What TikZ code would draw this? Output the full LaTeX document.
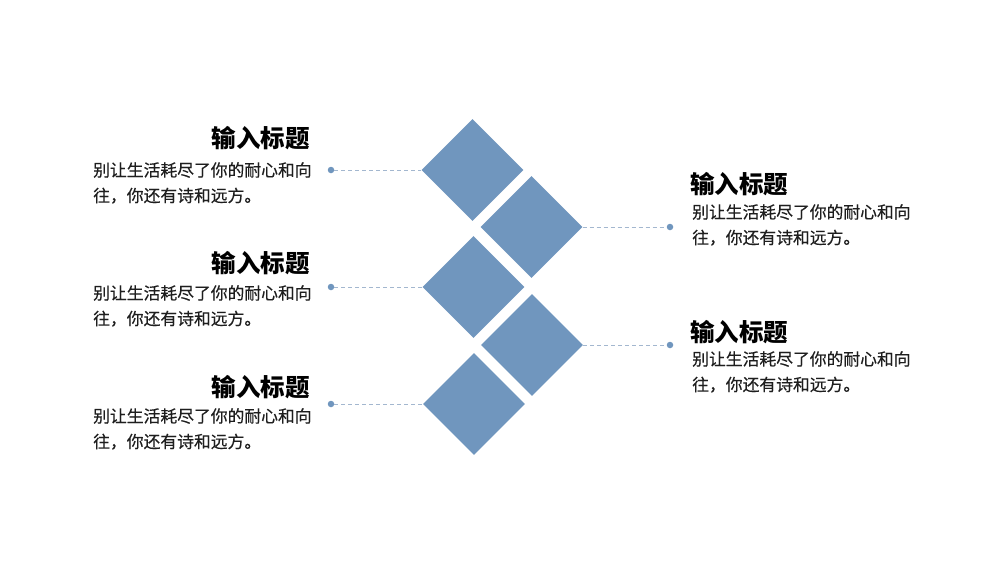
\documentclass[tikz,border=0pt]{standalone}
\usepackage{fontspec}
\newfontfamily\cjk{Noto Sans CJK SC}
\newfontfamily\cjkbody[FakeBold=0.3]{Noto Sans CJK SC}
\usetikzlibrary{shapes.geometric}
\definecolor{dmd}{HTML}{7096BE}
\definecolor{dashc}{HTML}{A3B7CF}
\definecolor{bodyc}{HTML}{1E1E1E}
\begin{document}
\begin{tikzpicture}[x=1pt,y=-1pt,
  dmdbox/.style={diamond, fill=dmd, draw=none, minimum width=102pt, minimum height=102pt, inner sep=0pt},
  dotmark/.style={circle, fill=dmd, draw=none, minimum size=6.5pt, inner sep=0pt},
  leader/.style={draw=dashc, line width=0.8pt, dash pattern=on 4pt off 3pt},
  titletext/.style={font=\cjk\bfseries\fontsize{24.5}{28}\selectfont, inner sep=0pt, text=black},
  bodytext/.style={font=\cjkbody\fontsize{16.8}{25.5}\selectfont, align=left, inner sep=0pt, text=bodyc, anchor=north west}]
\useasboundingbox (0,0) rectangle (1000,563);
\fill[white] (0,0) rectangle (1000,563);
% diamonds
\node[dmdbox] (d1) at (472.5,170) {};
\node[dmdbox] (d2) at (531.5,227) {};
\node[dmdbox] (d3) at (473.5,287) {};
\node[dmdbox] (d4) at (532,345) {};
\node[dmdbox] (d5) at (474,404) {};
% dots
\node[dotmark] (p1) at (331,170) {};
\node[dotmark] (p2) at (670,227) {};
\node[dotmark] (p3) at (331,287) {};
\node[dotmark] (p4) at (670,345) {};
\node[dotmark] (p5) at (331,404) {};
% leaders
\draw[leader] (p1) -- (d1.west);
\draw[leader] (d2.east) -- (p2);
\draw[leader] (p3) -- (d3.west);
\draw[leader] (d4.east) -- (p4);
\draw[leader] (p5) -- (d5.west);
% left texts
\node[titletext, anchor=east] (t1) at (310,138) {输入标题};
\node[bodytext] (b1) at (93,162) {别让生活耗尽了你的耐心和向\\往，你还有诗和远方。};
\node[titletext, anchor=east] (t3) at (310,263) {输入标题};
\node[bodytext] (b3) at (93,285) {别让生活耗尽了你的耐心和向\\往，你还有诗和远方。};
\node[titletext, anchor=east] (t5) at (310,387) {输入标题};
\node[bodytext] (b5) at (93,408) {别让生活耗尽了你的耐心和向\\往，你还有诗和远方。};
% right texts
\node[titletext, anchor=west] (t2) at (690,184) {输入标题};
\node[bodytext] (b2) at (692,204) {别让生活耗尽了你的耐心和向\\往，你还有诗和远方。};
\node[titletext, anchor=west] (t4) at (690,332) {输入标题};
\node[bodytext] (b4) at (692,351) {别让生活耗尽了你的耐心和向\\往，你还有诗和远方。};
\end{tikzpicture}
\end{document}
